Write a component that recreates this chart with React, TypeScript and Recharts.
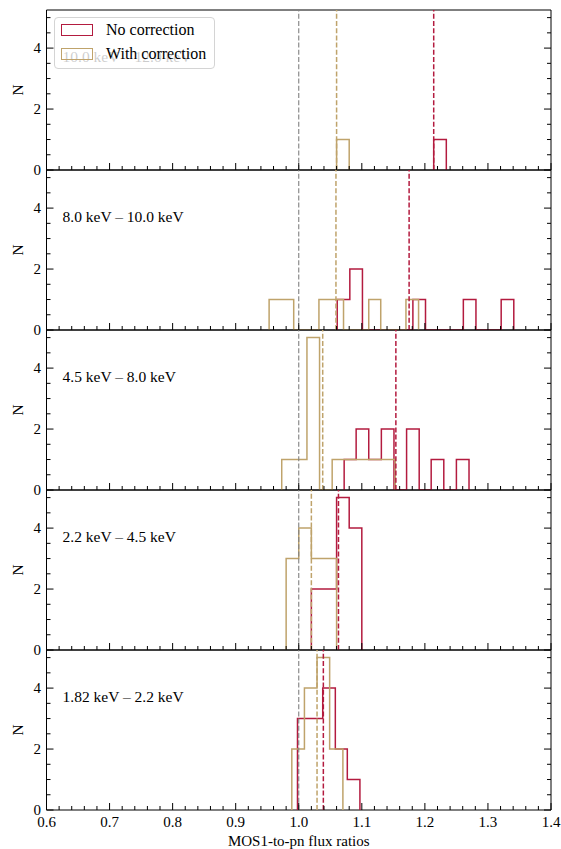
import { Legend, Line, LineChart, ReferenceArea, ReferenceLine, XAxis, YAxis } from "recharts";

const FONT = "'Liberation Serif', 'Times New Roman', serif";
const RED = "#B31B3F";
const GOLD = "#BFA36B";
const GREY = "#808080";

const bandLabels = [
  "10.0 keV \u2013 12.0 keV",
  "8.0 keV \u2013 10.0 keV",
  "4.5 keV \u2013 8.0 keV",
  "2.2 keV \u2013 4.5 keV",
  "1.82 keV \u2013 2.2 keV",
];

const xMajorTicks = [0.6, 0.7, 0.8, 0.9, 1.0, 1.1, 1.2, 1.3, 1.4];
const yMajorTicks = [0, 2, 4];
const referenceRatio = 1.0;

// medians drawn as dashed lines, one per band (top to bottom)
const noCorrectionMedians = [1.214, 1.175, 1.154, 1.063, 1.039];
const withCorrectionMedians = [1.06, 1.059, 1.038, 1.02, 1.029];

// 10.0 - 12.0 keV
const noCorrEdges10 = [1.214, 1.234];
const noCorrCounts10 = [1];
const withCorrEdges10 = [1.06, 1.08];
const withCorrCounts10 = [1];

// 8.0 - 10.0 keV
const noCorrEdges8 = [1.061, 1.081, 1.101, 1.121, 1.141, 1.161, 1.181, 1.201, 1.221, 1.241, 1.261, 1.281, 1.301, 1.321, 1.341];
const noCorrCounts8 = [1, 2, 0, 0, 0, 0, 1, 0, 0, 0, 1, 0, 0, 1];
const withCorrEdges8 = [0.953, 0.973, 0.992, 1.012, 1.032, 1.052, 1.071, 1.091, 1.111, 1.13, 1.15, 1.17, 1.19];
const withCorrCounts8 = [1, 1, 0, 0, 1, 1, 0, 0, 1, 0, 0, 1];

// 4.5 - 8.0 keV
const noCorrEdges45 = [1.072, 1.091, 1.111, 1.131, 1.151, 1.171, 1.191, 1.21, 1.23, 1.25, 1.27];
const noCorrCounts45 = [1, 2, 1, 2, 0, 2, 0, 1, 0, 1];
const withCorrEdges45 = [0.973, 0.993, 1.013, 1.033, 1.053, 1.073, 1.093, 1.113, 1.133, 1.153];
const withCorrCounts45 = [1, 1, 5, 0, 1, 1, 1, 1, 1];

// 2.2 - 4.5 keV
const noCorrEdges22 = [1.02, 1.04, 1.06, 1.08, 1.1];
const noCorrCounts22 = [2, 2, 5, 4];
const withCorrEdges22 = [0.98, 1.0, 1.02, 1.04, 1.06];
const withCorrCounts22 = [3, 4, 3, 3];

// 1.82 - 2.2 keV
const noCorrEdges182 = [0.998, 1.018, 1.038, 1.058, 1.077, 1.097];
const noCorrCounts182 = [3, 3, 4, 2, 1];
const withCorrEdges182 = [0.989, 1.009, 1.029, 1.049, 1.07];
const withCorrCounts182 = [2, 4, 5, 2];

type Pt = { x: number; y: number };

// outline of a step histogram (no baseline), drawn with stepAfter
function stepOutline(edges: number[], counts: number[]): Pt[] {
  const pts: Pt[] = [{ x: edges[0], y: 0 }];
  counts.forEach((c, i) => pts.push({ x: edges[i], y: c }));
  pts.push({ x: edges[edges.length - 1], y: 0 });
  return pts;
}

const panels = [
  { noCorr: stepOutline(noCorrEdges10, noCorrCounts10), withCorr: stepOutline(withCorrEdges10, withCorrCounts10) },
  { noCorr: stepOutline(noCorrEdges8, noCorrCounts8), withCorr: stepOutline(withCorrEdges8, withCorrCounts8) },
  { noCorr: stepOutline(noCorrEdges45, noCorrCounts45), withCorr: stepOutline(withCorrEdges45, withCorrCounts45) },
  { noCorr: stepOutline(noCorrEdges22, noCorrCounts22), withCorr: stepOutline(withCorrEdges22, withCorrCounts22) },
  { noCorr: stepOutline(noCorrEdges182, noCorrCounts182), withCorr: stepOutline(withCorrEdges182, withCorrCounts182) },
];

const xTicks = Array.from({ length: 41 }, (_, i) => Math.round((0.6 + i * 0.02) * 100) / 100);
const yTicks = Array.from({ length: 11 }, (_, i) => i * 0.5);

const X_DOMAIN: [number, number] = [0.6, 1.4];
const Y_DOMAIN: [number, number] = [0, 5.25];
const PANEL_H = 160;
const PAD = 12;
const FIRST_TOP = 9.5;
const XLABEL_H = 40;

const isMajorX = (v: number) => xMajorTicks.some((t) => Math.abs(t - v) < 1e-6);
const isMajorY = (v: number) => yMajorTicks.includes(v);

function XTick(props: any) {
  const { x, y, payload, side, showLabel } = props;
  const v = payload.value as number;
  const major = isMajorX(v);
  const len = major ? 7 : 4;
  const dir = side === "bottom" ? -1 : 1;
  return (
    <g>
      <line x1={x} x2={x} y1={y} y2={y + dir * len} stroke="#000" strokeWidth={1} />
      {showLabel && major && (
        <text x={x} y={y + 17} textAnchor="middle" fontSize={15} fontFamily={FONT} fill="#000">
          {v.toFixed(1)}
        </text>
      )}
    </g>
  );
}

function YTick(props: any) {
  const { x, y, payload, side } = props;
  const v = payload.value as number;
  const major = isMajorY(v);
  const len = major ? 7 : 4;
  const dir = side === "left" ? 1 : -1;
  return (
    <g>
      <line x1={x} x2={x + dir * len} y1={y} y2={y} stroke="#000" strokeWidth={1} />
      {side === "left" && major && (
        <text x={x - 5.5} y={y + 5} textAnchor="end" fontSize={15} fontFamily={FONT} fill="#000">
          {v}
        </text>
      )}
    </g>
  );
}

function HistLegend({ payload }: any) {
  return (
    <div
      style={{
        width: 161,
        height: 52,
        boxSizing: "border-box",
        border: "1px solid #d4d4d4",
        borderRadius: 4,
        background: "rgba(255,255,255,0.8)",
        position: "relative",
        fontFamily: FONT,
        fontSize: 16,
        color: "#000",
      }}
    >
      {(payload || []).map((entry: any, i: number) => (
        <div
          key={entry.value}
          style={{ position: "absolute", left: 6, top: 6 + i * 24, height: 12, display: "flex", alignItems: "center" }}
        >
          <span
            style={{
              display: "inline-block",
              width: 32,
              height: 12,
              boxSizing: "border-box",
              border: `1.5px solid ${entry.color}`,
            }}
          />
          <span style={{ marginLeft: 13, lineHeight: "12px", whiteSpace: "nowrap" }}>{entry.value}</span>
        </div>
      ))}
    </div>
  );
}

function Panel({ index }: { index: number }) {
  const last = index === panels.length - 1;
  const data = panels[index];
  const plotTop = FIRST_TOP + index * PANEL_H;
  const height = PAD + PANEL_H + (last ? XLABEL_H : PAD);

  return (
    <div style={{ position: "absolute", left: 0, top: plotTop - PAD }}>
      <LineChart width={561} height={height} margin={{ top: PAD - 1, right: 9, bottom: last ? 0 : PAD - 1, left: 0.5 }}>
        <XAxis
          dataKey="x"
          type="number"
          domain={X_DOMAIN}
          allowDataOverflow
          ticks={xTicks}
          interval={0}
          height={last ? XLABEL_H : 1}
          tickSize={0}
          tickMargin={0}
          tickLine={false}
          axisLine={false}
          tick={(p: any) => <XTick {...p} side="bottom" showLabel={last} />}
          label={
            last
              ? {
                  content: ({ viewBox }: any) => (
                    <text
                      x={viewBox.x + viewBox.width / 2}
                      y={viewBox.y + 35.5}
                      textAnchor="middle"
                      fontSize={15}
                      fontFamily={FONT}
                      fill="#000"
                    >
                      MOS1-to-pn flux ratios
                    </text>
                  ),
                }
              : undefined
          }
        />
        <XAxis
          xAxisId="top"
          orientation="top"
          type="number"
          domain={X_DOMAIN}
          allowDataOverflow
          ticks={xTicks}
          interval={0}
          height={1}
          tickSize={0}
          tickMargin={0}
          tickLine={false}
          axisLine={false}
          tick={(p: any) => <XTick {...p} side="top" showLabel={false} />}
          label={{
            content: ({ viewBox }: any) => (
              <text x={viewBox.x + 16} y={viewBox.y + viewBox.height + 52} fontSize={15.5} fontFamily={FONT} fill="#000">
                {bandLabels[index]}
              </text>
            ),
          }}
        />
        <YAxis
          type="number"
          domain={Y_DOMAIN}
          allowDataOverflow
          ticks={yTicks}
          interval={0}
          width={46}
          tickSize={0}
          tickMargin={0}
          tickLine={false}
          axisLine={false}
          tick={(p: any) => <YTick {...p} side="left" />}
          label={{
            content: ({ viewBox }: any) => (
              <text
                x={17.5}
                y={viewBox.y + viewBox.height / 2}
                transform={`rotate(-90 17.5 ${viewBox.y + viewBox.height / 2})`}
                textAnchor="middle"
                dominantBaseline="central"
                fontSize={15.5}
                fontFamily={FONT}
                fill="#000"
              >
                N
              </text>
            ),
          }}
        />
        <YAxis
          yAxisId="right"
          orientation="right"
          type="number"
          domain={Y_DOMAIN}
          allowDataOverflow
          ticks={yTicks}
          interval={0}
          width={1}
          tickSize={0}
          tickMargin={0}
          tickLine={false}
          axisLine={false}
          tick={(p: any) => <YTick {...p} side="right" />}
        />
        <ReferenceArea
          x1={X_DOMAIN[0]}
          x2={X_DOMAIN[1]}
          y1={Y_DOMAIN[0]}
          y2={Y_DOMAIN[1]}
          fill="none"
          fillOpacity={0}
          stroke="#000"
          strokeWidth={1}
          ifOverflow="visible"
        />
        <Line
          data={data.noCorr}
          dataKey="y"
          name="No correction"
          type="stepAfter"
          stroke={RED}
          strokeWidth={1.5}
          strokeLinejoin="miter"
          dot={false}
          activeDot={false}
          isAnimationActive={false}
        />
        <Line
          data={data.withCorr}
          dataKey="y"
          name="With correction"
          type="stepAfter"
          stroke={GOLD}
          strokeWidth={1.5}
          strokeLinejoin="miter"
          dot={false}
          activeDot={false}
          isAnimationActive={false}
        />
        <ReferenceLine x={referenceRatio} stroke={GREY} strokeWidth={1.1} strokeDasharray="5 2.2" />
        <ReferenceLine x={withCorrectionMedians[index]} stroke={GOLD} strokeWidth={1.5} strokeDasharray="5 2.2" />
        <ReferenceLine x={noCorrectionMedians[index]} stroke={RED} strokeWidth={1.5} strokeDasharray="5 2.2" />
        {index === 0 && (
          <Legend
            layout="horizontal"
            verticalAlign="middle"
            align="center"
            width={161}
            height={52}
            wrapperStyle={{ left: 54, top: 17 - (plotTop - PAD), width: 161, height: 52 }}
            content={<HistLegend />}
          />
        )}
      </LineChart>
    </div>
  );
}

export default function App() {
  return (
    <div
      style={{
        position: "absolute",
        left: 0,
        top: 0,
        width: 561,
        height: 849,
        overflow: "hidden",
        background: "#fff",
        fontFamily: FONT,
      }}
    >
      {panels.map((_, i) => (
        <Panel key={i} index={i} />
      ))}
    </div>
  );
}
